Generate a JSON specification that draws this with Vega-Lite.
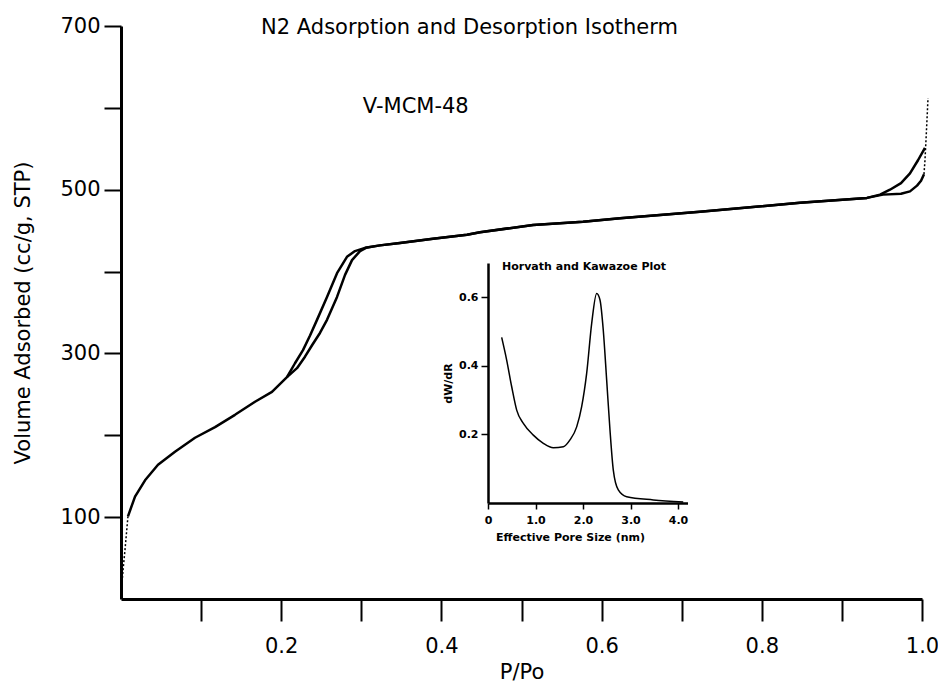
{
  "$schema": "https://vega.github.io/schema/vega-lite/v6.json",
  "width": 801,
  "height": 573,
  "autosize": "none",
  "padding": {"left": 121, "top": 26, "right": 16, "bottom": 84},
  "background": "white",
  "config": {
    "view": {"stroke": null},
    "font": "DejaVu Sans",
    "axis": {"grid": false, "labelColor": "black", "titleColor": "black", "domainColor": "black", "tickColor": "black", "labelFlush": false, "labelOverlap": false}
  },
  "title": {
    "text": "N2 Adsorption and Desorption Isotherm",
    "fontSize": 21,
    "fontWeight": "normal",
    "color": "black",
    "anchor": "middle",
    "dx": -52,
    "dy": 34,
    "baseline": "alphabetic",
    "offset": -6
  },
  "datasets": {
    "iso": [
      {"series": "Adsorption", "style": "dotted", "segment": "ads-lo", "i": 1, "P": 0.0006, "V": 11},
      {"series": "Adsorption", "style": "dotted", "segment": "ads-lo", "i": 2, "P": 0.0025, "V": 35},
      {"series": "Adsorption", "style": "dotted", "segment": "ads-lo", "i": 3, "P": 0.005, "V": 60},
      {"series": "Adsorption", "style": "dotted", "segment": "ads-lo", "i": 4, "P": 0.0075, "V": 88},
      {"series": "Adsorption", "style": "dotted", "segment": "ads-lo", "i": 5, "P": 0.0087, "V": 101},
      {"series": "Adsorption", "style": "solid", "segment": "ads", "i": 1, "P": 0.0087, "V": 101},
      {"series": "Adsorption", "style": "solid", "segment": "ads", "i": 2, "P": 0.0175, "V": 125},
      {"series": "Adsorption", "style": "solid", "segment": "ads", "i": 3, "P": 0.030, "V": 145},
      {"series": "Adsorption", "style": "solid", "segment": "ads", "i": 4, "P": 0.0462, "V": 164},
      {"series": "Adsorption", "style": "solid", "segment": "ads", "i": 5, "P": 0.0674, "V": 180},
      {"series": "Adsorption", "style": "solid", "segment": "ads", "i": 6, "P": 0.0924, "V": 197},
      {"series": "Adsorption", "style": "solid", "segment": "ads", "i": 7, "P": 0.1174, "V": 210},
      {"series": "Adsorption", "style": "solid", "segment": "ads", "i": 8, "P": 0.1423, "V": 225},
      {"series": "Adsorption", "style": "solid", "segment": "ads", "i": 9, "P": 0.1673, "V": 241},
      {"series": "Adsorption", "style": "solid", "segment": "ads", "i": 10, "P": 0.1885, "V": 253},
      {"series": "Adsorption", "style": "solid", "segment": "ads", "i": 11, "P": 0.2072, "V": 271},
      {"series": "Adsorption", "style": "solid", "segment": "ads", "i": 12, "P": 0.2197, "V": 282},
      {"series": "Adsorption", "style": "solid", "segment": "ads", "i": 13, "P": 0.2297, "V": 296},
      {"series": "Adsorption", "style": "solid", "segment": "ads", "i": 14, "P": 0.2385, "V": 310},
      {"series": "Adsorption", "style": "solid", "segment": "ads", "i": 15, "P": 0.2484, "V": 325},
      {"series": "Adsorption", "style": "solid", "segment": "ads", "i": 16, "P": 0.2572, "V": 341},
      {"series": "Adsorption", "style": "solid", "segment": "ads", "i": 17, "P": 0.2697, "V": 369},
      {"series": "Adsorption", "style": "solid", "segment": "ads", "i": 18, "P": 0.2797, "V": 396},
      {"series": "Adsorption", "style": "solid", "segment": "ads", "i": 19, "P": 0.2884, "V": 414},
      {"series": "Adsorption", "style": "solid", "segment": "ads", "i": 20, "P": 0.2984, "V": 425},
      {"series": "Adsorption", "style": "solid", "segment": "ads", "i": 21, "P": 0.3059, "V": 429},
      {"series": "Adsorption", "style": "solid", "segment": "ads", "i": 22, "P": 0.3233, "V": 432},
      {"series": "Adsorption", "style": "solid", "segment": "ads", "i": 23, "P": 0.3483, "V": 435},
      {"series": "Adsorption", "style": "solid", "segment": "ads", "i": 24, "P": 0.3895, "V": 440},
      {"series": "Adsorption", "style": "solid", "segment": "ads", "i": 25, "P": 0.432, "V": 445},
      {"series": "Adsorption", "style": "solid", "segment": "ads", "i": 26, "P": 0.4482, "V": 448},
      {"series": "Adsorption", "style": "solid", "segment": "ads", "i": 27, "P": 0.5144, "V": 457},
      {"series": "Adsorption", "style": "solid", "segment": "ads", "i": 28, "P": 0.5768, "V": 461},
      {"series": "Adsorption", "style": "solid", "segment": "ads", "i": 29, "P": 0.623, "V": 465},
      {"series": "Adsorption", "style": "solid", "segment": "ads", "i": 30, "P": 0.7228, "V": 473},
      {"series": "Adsorption", "style": "solid", "segment": "ads", "i": 31, "P": 0.8477, "V": 484},
      {"series": "Adsorption", "style": "solid", "segment": "ads", "i": 32, "P": 0.9313, "V": 490},
      {"series": "Adsorption", "style": "solid", "segment": "ads", "i": 33, "P": 0.9513, "V": 494},
      {"series": "Adsorption", "style": "solid", "segment": "ads", "i": 34, "P": 0.9738, "V": 495},
      {"series": "Adsorption", "style": "solid", "segment": "ads", "i": 35, "P": 0.985, "V": 498},
      {"series": "Adsorption", "style": "solid", "segment": "ads", "i": 36, "P": 0.9938, "V": 505},
      {"series": "Adsorption", "style": "solid", "segment": "ads", "i": 37, "P": 0.9988, "V": 511},
      {"series": "Adsorption", "style": "solid", "segment": "ads", "i": 38, "P": 1.0025, "V": 519},
      {"series": "Adsorption", "style": "dotted", "segment": "ads-hi", "i": 1, "P": 1.0025, "V": 519},
      {"series": "Adsorption", "style": "dotted", "segment": "ads-hi", "i": 2, "P": 1.0037, "V": 536},
      {"series": "Adsorption", "style": "dotted", "segment": "ads-hi", "i": 3, "P": 1.005, "V": 561},
      {"series": "Adsorption", "style": "dotted", "segment": "ads-hi", "i": 4, "P": 1.0062, "V": 585},
      {"series": "Adsorption", "style": "dotted", "segment": "ads-hi", "i": 5, "P": 1.0075, "V": 612},
      {"series": "Desorption", "style": "solid", "segment": "des", "i": 1, "P": 0.2072, "V": 271},
      {"series": "Desorption", "style": "solid", "segment": "des", "i": 2, "P": 0.2172, "V": 288},
      {"series": "Desorption", "style": "solid", "segment": "des", "i": 3, "P": 0.2272, "V": 304},
      {"series": "Desorption", "style": "solid", "segment": "des", "i": 4, "P": 0.236, "V": 322},
      {"series": "Desorption", "style": "solid", "segment": "des", "i": 5, "P": 0.2447, "V": 341},
      {"series": "Desorption", "style": "solid", "segment": "des", "i": 6, "P": 0.2572, "V": 369},
      {"series": "Desorption", "style": "solid", "segment": "des", "i": 7, "P": 0.2697, "V": 398},
      {"series": "Desorption", "style": "solid", "segment": "des", "i": 8, "P": 0.2821, "V": 418},
      {"series": "Desorption", "style": "solid", "segment": "des", "i": 9, "P": 0.2921, "V": 425},
      {"series": "Desorption", "style": "solid", "segment": "des", "i": 10, "P": 0.3046, "V": 429},
      {"series": "Desorption", "style": "solid", "segment": "des", "i": 11, "P": 0.3233, "V": 432},
      {"series": "Desorption", "style": "solid", "segment": "des", "i": 12, "P": 0.3483, "V": 435},
      {"series": "Desorption", "style": "solid", "segment": "des", "i": 13, "P": 0.3895, "V": 440},
      {"series": "Desorption", "style": "solid", "segment": "des", "i": 14, "P": 0.432, "V": 445},
      {"series": "Desorption", "style": "solid", "segment": "des", "i": 15, "P": 0.4482, "V": 448},
      {"series": "Desorption", "style": "solid", "segment": "des", "i": 16, "P": 0.5144, "V": 457},
      {"series": "Desorption", "style": "solid", "segment": "des", "i": 17, "P": 0.5768, "V": 461},
      {"series": "Desorption", "style": "solid", "segment": "des", "i": 18, "P": 0.623, "V": 465},
      {"series": "Desorption", "style": "solid", "segment": "des", "i": 19, "P": 0.7228, "V": 473},
      {"series": "Desorption", "style": "solid", "segment": "des", "i": 20, "P": 0.8477, "V": 484},
      {"series": "Desorption", "style": "solid", "segment": "des", "i": 21, "P": 0.9313, "V": 490},
      {"series": "Desorption", "style": "solid", "segment": "des", "i": 22, "P": 0.9476, "V": 494},
      {"series": "Desorption", "style": "solid", "segment": "des", "i": 23, "P": 0.96, "V": 500},
      {"series": "Desorption", "style": "solid", "segment": "des", "i": 24, "P": 0.9738, "V": 508},
      {"series": "Desorption", "style": "solid", "segment": "des", "i": 25, "P": 0.985, "V": 520},
      {"series": "Desorption", "style": "solid", "segment": "des", "i": 26, "P": 0.995, "V": 536},
      {"series": "Desorption", "style": "solid", "segment": "des", "i": 27, "P": 1.0037, "V": 551}
    ],
    "hk": [
      {"D": 0.288, "W": 0.483}, {"D": 0.393, "W": 0.417}, {"D": 0.499, "W": 0.339},
      {"D": 0.604, "W": 0.271}, {"D": 0.744, "W": 0.232}, {"D": 0.954, "W": 0.198},
      {"D": 1.165, "W": 0.174}, {"D": 1.375, "W": 0.161}, {"D": 1.586, "W": 0.164},
      {"D": 1.726, "W": 0.184}, {"D": 1.867, "W": 0.222}, {"D": 1.972, "W": 0.281},
      {"D": 2.077, "W": 0.378}, {"D": 2.183, "W": 0.524}, {"D": 2.288, "W": 0.611},
      {"D": 2.358, "W": 0.592}, {"D": 2.427, "W": 0.504}, {"D": 2.498, "W": 0.359},
      {"D": 2.568, "W": 0.213}, {"D": 2.638, "W": 0.096}, {"D": 2.743, "W": 0.038},
      {"D": 2.92, "W": 0.018}, {"D": 3.48, "W": 0.009}, {"D": 4.11, "W": 0.003}
    ],
    "notes": [{"label": "V-MCM-48", "P": 0.368, "V": 594}],
    "hknotes": [{"label": "Horvath and Kawazoe Plot", "D": 0.295, "W": 0.68}]
  },
  "layer": [
    {
      "encoding": {
        "x": {
          "field": "P", "type": "quantitative",
          "scale": {"domain": [0, 1], "nice": false, "zero": false},
          "axis": {
            "orient": "bottom",
            "title": "P/Po",
            "values": [0.1, 0.2, 0.3, 0.4, 0.5, 0.6, 0.7, 0.8, 0.9, 1.0],
            "labelExpr": "round(datum.value*10) % 2 == 0 ? format(datum.value, '.1f') : ''",
            "domainWidth": 3, "tickWidth": 2, "tickSize": 22,
            "labelFontSize": 21, "labelPadding": 14, "labelFont": "DejaVu Sans",
            "titleFontSize": 21, "titleFontWeight": "normal", "titlePadding": 5
          }
        },
        "y": {
          "field": "V", "type": "quantitative",
          "scale": {"domain": [0, 700], "nice": false},
          "axis": {
            "orient": "left",
            "title": "Volume Adsorbed (cc/g, STP)",
            "values": [100, 200, 300, 400, 500, 600, 700],
            "labelExpr": "(datum.value / 100) % 2 == 1 ? format(datum.value, 'd') : ''",
            "domainWidth": 3, "tickWidth": 2, "tickSize": 17,
            "labelFontSize": 21, "labelPadding": 4,
            "titleFontSize": 21, "titleFontWeight": "normal", "titlePadding": 26
          }
        }
      },
      "layer": [
        {
          "data": {"name": "iso"},
          "transform": [{"filter": "datum.style == 'solid'"}],
          "mark": {"type": "line", "color": "black", "strokeWidth": 2.5, "strokeJoin": "round"},
          "encoding": {"detail": {"field": "segment"}, "order": {"field": "i", "type": "quantitative"}}
        },
        {
          "data": {"name": "iso"},
          "transform": [{"filter": "datum.style == 'dotted'"}],
          "mark": {"type": "line", "color": "black", "strokeWidth": 1.5, "strokeDash": [2, 2]},
          "encoding": {"detail": {"field": "segment"}, "order": {"field": "i", "type": "quantitative"}}
        },
        {
          "data": {"name": "notes"},
          "mark": {"type": "text", "fontSize": 21, "color": "black", "align": "center", "baseline": "alphabetic"},
          "encoding": {"text": {"field": "label"}}
        }
      ]
    },
    {
      "encoding": {
        "x": {
          "field": "D", "type": "quantitative",
          "scale": {"domain": [0, 4.2], "range": [367, 566.5], "nice": false, "zero": false},
          "axis": {
            "orient": "bottom", "offset": -96,
            "title": "Effective Pore Size (nm)",
            "values": [0, 1, 2, 3, 4],
            "labelExpr": "datum.value == 0 ? '0' : format(datum.value, '.1f')",
            "domainWidth": 2.5, "tickWidth": 1.5, "tickSize": 6,
            "labelFontSize": 11, "labelFontWeight": "bold", "labelPadding": 5,
            "titleFontSize": 11, "titleFontWeight": "bold", "titlePadding": 6, "titleX": 449
          }
        },
        "y": {
          "field": "W", "type": "quantitative",
          "scale": {"domain": [0, 0.7], "range": [477, 237], "nice": false},
          "axis": {
            "orient": "left", "offset": -367,
            "title": "dW/dR",
            "values": [0.2, 0.4, 0.6],
            "format": ".1f",
            "domainWidth": 2.5, "tickWidth": 1.5, "tickSize": 7,
            "labelFontSize": 11, "labelFontWeight": "bold", "labelPadding": 3,
            "titleFontSize": 11, "titleFontWeight": "bold", "titlePadding": 5
          }
        }
      },
      "layer": [
        {
          "data": {"name": "hk"},
          "mark": {"type": "line", "color": "black", "strokeWidth": 1.5, "interpolate": "monotone"},
          "encoding": {}
        },
        {
          "data": {"name": "hknotes"},
          "mark": {"type": "text", "fontSize": 11, "fontWeight": "bold", "color": "black", "align": "left", "baseline": "alphabetic"},
          "encoding": {"text": {"field": "label"}}
        }
      ]
    }
  ],
  "resolve": {"scale": {"x": "independent", "y": "independent"}, "axis": {"x": "independent", "y": "independent"}}
}
